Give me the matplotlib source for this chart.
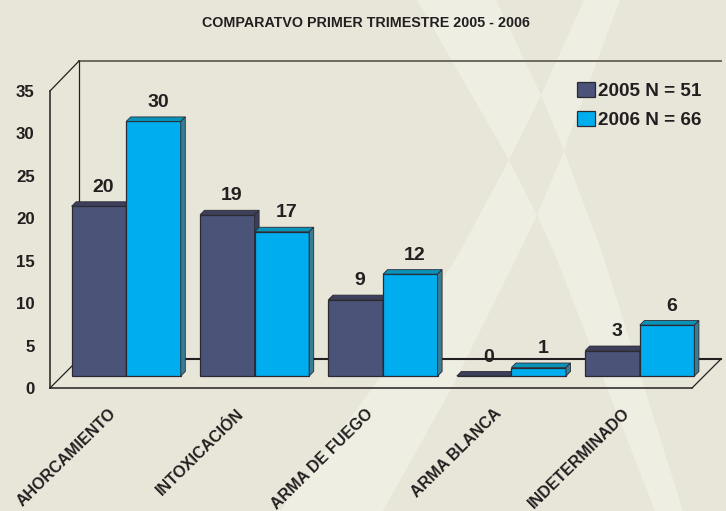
import matplotlib
matplotlib.use("Agg")
import matplotlib.pyplot as plt
from matplotlib.patches import Polygon
from matplotlib.lines import Line2D
from matplotlib.transforms import Affine2D

categories = ["AHORCAMIENTO", "INTOXICACIÓN", "ARMA DE FUEGO", "ARMA BLANCA", "INDETERMINADO"]
values_2005 = [20, 19, 9, 0, 3]
values_2006 = [30, 17, 12, 1, 6]
series_labels = ["2005 N = 51", "2006 N = 66"]
title = "COMPARATVO PRIMER TRIMESTRE 2005 - 2006"
y_ticks = [0, 5, 10, 15, 20, 25, 30, 35]

W, H = 726, 511
BG = "#e8e5d9"
LIGHT = "#eeeee2"
INK = "#231f20"
plt.rcParams["font.family"] = ["Liberation Sans", "DejaVu Sans"]
plt.rcParams["font.weight"] = "bold"

fig = plt.figure(figsize=(W / 100, H / 100), dpi=100, facecolor=BG)


def fx(x, y):
    return (x / W, 1 - y / H)


def backdrop(pts, color):
    fig.add_artist(Polygon([fx(*p) for p in pts], closed=True, transform=fig.transFigure,
                           facecolor=color, edgecolor="none", zorder=-5))


# Pale crossing bands of the slide background
backdrop([(417, 0), (509, 160), (537, 215), (555, 255), (655, 511), (683, 511),
          (603, 255), (564, 151), (541, 95), (496, 0)], LIGHT)
backdrop([(584, 0), (541, 95), (509, 160), (458, 255), (380, 378), (280, 511), (383, 511),
          (450, 391), (518, 255), (537, 215), (564, 150), (620, 0)], LIGHT)
backdrop([(541, 95), (564, 151), (537, 215), (509, 160)], BG)

ax = fig.add_axes([50 / W, (H - 388) / H, 642 / W, 297 / H])
ax.patch.set_alpha(0)
ax.set_xlim(-0.5, 4.5)
ax.set_ylim(0, 35)
for s in ("top", "right"):
    ax.spines[s].set_visible(False)
for s in ("left", "bottom"):
    ax.spines[s].set_color(INK)
    ax.spines[s].set_linewidth(1.1)

# 3D frame of the chart box
for (p, q, c, lw) in [((79, 61), (721, 61), "#6d6b60", 1.4),
                      ((50, 91), (79, 61), INK, 0.9),
                      ((79, 61), (79, 359), INK, 0.9),
                      ((79, 359), (721, 359), INK, 1.5),
                      ((50, 388), (79, 359), INK, 0.9),
                      ((692, 388), (721, 359), INK, 0.9)]:
    a, b = fx(*p), fx(*q)
    ax.add_line(Line2D([a[0], b[0]], [a[1], b[1]], transform=fig.transFigure, color=c, lw=lw,
                       zorder=1, clip_on=False))

# bars stand part-way back on the floor
shift = ax.transData + Affine2D().translate(12, 12)
bw = 54.6 / (642 / 5)
dx = 4.5 / (642 / 5)
dy = 4.5 / (297 / 35)
EDGE = "#2a2a33"
styles = [("#4b5478", "#3d3f5c", "#3a3d58"), ("#00adef", "#0a93b8", "#3a7d93")]
handles = []
for k, (vals, (front, top, side)) in enumerate(zip((values_2005, values_2006), styles)):
    xs = [i + (k - 1) * bw for i in range(len(vals))]
    bars = ax.bar(xs, vals, width=bw, align="edge", color=front, edgecolor=EDGE, linewidth=0.9,
                  transform=shift, zorder=3 + k, clip_on=False)
    handles.append(bars[0] if vals[0] else bars)
    for x, v in zip(xs, vals):
        r = x + bw
        ax.add_patch(Polygon([(x, v), (x + dx, v + dy), (r + dx, v + dy), (r, v)], closed=True,
                             facecolor=top, edgecolor=EDGE, lw=0.6, transform=shift,
                             zorder=3 + k, clip_on=False))
        ax.add_patch(Polygon([(r, 0), (r + dx, dy), (r + dx, v + dy), (r, v)], closed=True,
                             facecolor=side, edgecolor=EDGE, lw=0.6, transform=shift,
                             zorder=3 + k, clip_on=False))
        ax.annotate(str(v), xy=(x + bw / 2, v), xycoords=shift, xytext=(3.2, 13.6),
                    textcoords="offset points", ha="center", va="center",
                    fontsize=14, fontweight="bold", color=INK, zorder=8)

ax.set_yticks(y_ticks)
ax.set_xticks(range(len(categories)))
ax.set_xticklabels(categories, rotation=44.5, ha="right", rotation_mode="anchor",
                   fontsize=11.5, fontweight="bold", color=INK)
ax.tick_params(axis="x", length=0, pad=15)
ax.tick_params(axis="y", length=0, pad=11, labelsize=12.2, labelcolor=INK)
for lab in ax.get_xticklabels():
    lab.set_transform(lab.get_transform() + Affine2D().translate(-6, 3))

fig.suptitle(title, x=365.5 / W, y=1 - 23 / H, ha="center", va="center",
             fontsize=10.3, fontweight="bold", color=INK)

ax.legend(handles, series_labels, loc="upper left", bbox_to_anchor=(577 / W, 1 - 82 / H),
          bbox_transform=fig.transFigure, frameon=False, prop={"size": 13.6, "weight": "bold"},
          labelcolor=INK, handlelength=0.95, handleheight=0.85, handletextpad=0.15,
          labelspacing=0.56, borderpad=0, borderaxespad=0)

fig.savefig("out.png", dpi=100, facecolor=BG)
